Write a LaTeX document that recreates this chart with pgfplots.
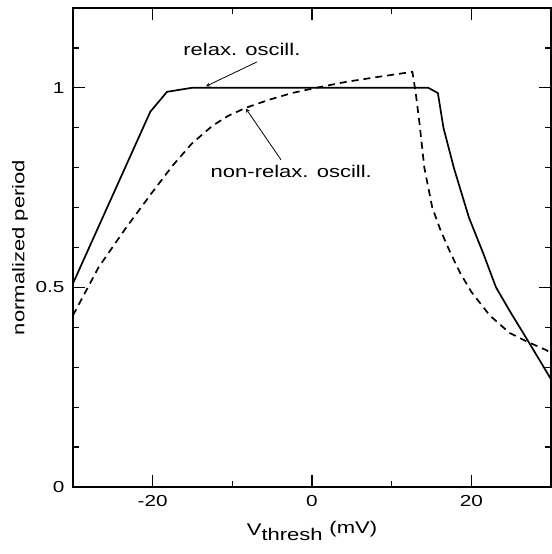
\documentclass[border=0pt]{standalone}
\usepackage{fontspec}
\setmainfont{Liberation Sans}[FakeStretch=1.3]
\usepackage{pgfplots}
\pgfplotsset{compat=1.18}

\begin{document}
\begin{tikzpicture}[tk/.style={black, line width=1.3pt}]
% fix the page to the reference's frame
\useasboundingbox (-73bp,-67bp) rectangle (479bp,487bp);
\begin{axis}[
scale only axis,
width=478bp, height=479bp,
xmin=-30, xmax=30,
ymin=0, ymax=1.2,
xtick={-20,0,20},
ytick={0,0.5,1}, yticklabels={0,0.5,1},
major tick length=0pt,
axis line style={draw=none},
/pgf/number format/assume math mode=true,
tick label style={font=\fontsize{16}{18}\selectfont},
xticklabel style={yshift=-5bp},
yticklabel style={xshift=-5bp},
xlabel={V\raisebox{-0.55ex}{thresh}\hspace{0.4em}\raisebox{0.25ex}{(mV)}},
ylabel={normalized period},
every axis x label/.style={at={(axis description cs:0.5,0)}, yshift=-44bp, anchor=center, font=\fontsize{17}{19}\selectfont},
every axis y label/.style={at={(axis description cs:0,0.5)}, xshift=-53bp, rotate=90, anchor=center, font=\fontsize{17}{19}\selectfont},
clip=false
]

% relaxation oscillator
\addplot[black, line width=1.7pt] coordinates {
(-30,0.51) (-20.3,0.94) (-18.2,0.99) (-15.1,1.0) (14.6,1.0) (15.8,0.987)
(16.5,0.90) (17.8,0.80) (19.7,0.675) (21.5,0.585) (23.1,0.50)
(25.0,0.435) (26.9,0.373) (28.5,0.32) (30,0.27)
};

% non-relaxation oscillator
\addplot[black, line width=1.7pt, dash pattern=on 7bp off 5bp] coordinates {
(-30,0.43) (-26.8,0.55) (-23.5,0.645) (-20.1,0.737) (-17.5,0.805) (-15.1,0.86)
(-12.5,0.905) (-10.5,0.93) (-8.3,0.95) (-5.4,0.97) (-2.5,0.987) (0.5,1.0)
(4.3,1.015) (8.5,1.028) (12.6,1.04) (13.0,0.99) (13.5,0.91) (14.1,0.80)
(15.1,0.70) (16.1,0.645) (17.3,0.59) (18.6,0.536) (20.0,0.489) (22.3,0.43)
(24.8,0.386) (26.9,0.365) (29.4,0.343) (30,0.335)
};

% frame and inward ticks, on all four sides (12 px major, 6 px minor)
\draw[black, line width=2pt] (rel axis cs:0,0) rectangle (rel axis cs:1,1);
\pgfplotsinvokeforeach{-20,0,20}{
  \draw[tk] (axis cs:#1,0) -- (axis cs:#1,0.030);
  \draw[tk] (axis cs:#1,1.2) -- (axis cs:#1,1.170);
}
\pgfplotsinvokeforeach{-10,10}{
  \draw[tk] (axis cs:#1,0) -- (axis cs:#1,0.015);
  \draw[tk] (axis cs:#1,1.2) -- (axis cs:#1,1.185);
}
\pgfplotsinvokeforeach{0.5,1}{
  \draw[tk] (axis cs:-30,#1) -- (axis cs:-28.5,#1);
  \draw[tk] (axis cs:30,#1) -- (axis cs:28.5,#1);
}
\pgfplotsinvokeforeach{0.1,0.2,0.3,0.4,0.6,0.7,0.8,0.9,1.1}{
  \draw[tk] (axis cs:-30,#1) -- (axis cs:-29.25,#1);
  \draw[tk] (axis cs:30,#1) -- (axis cs:29.25,#1);
}

% annotations
\node[font=\fontsize{17}{19}\selectfont] at (axis cs:-8.8,1.095) {relax. oscill.};
\draw[->, >=stealth, line width=0.8pt] (axis cs:-6.9,1.065) -- (axis cs:-13.3,1.004);
\node[font=\fontsize{17}{19}\selectfont] at (axis cs:-2.6,0.79) {non-relax. oscill.};
\draw[->, >=stealth, line width=0.8pt] (axis cs:-3.9,0.82) -- (axis cs:-8.3,0.948);

\end{axis}
\end{tikzpicture}
\end{document}
